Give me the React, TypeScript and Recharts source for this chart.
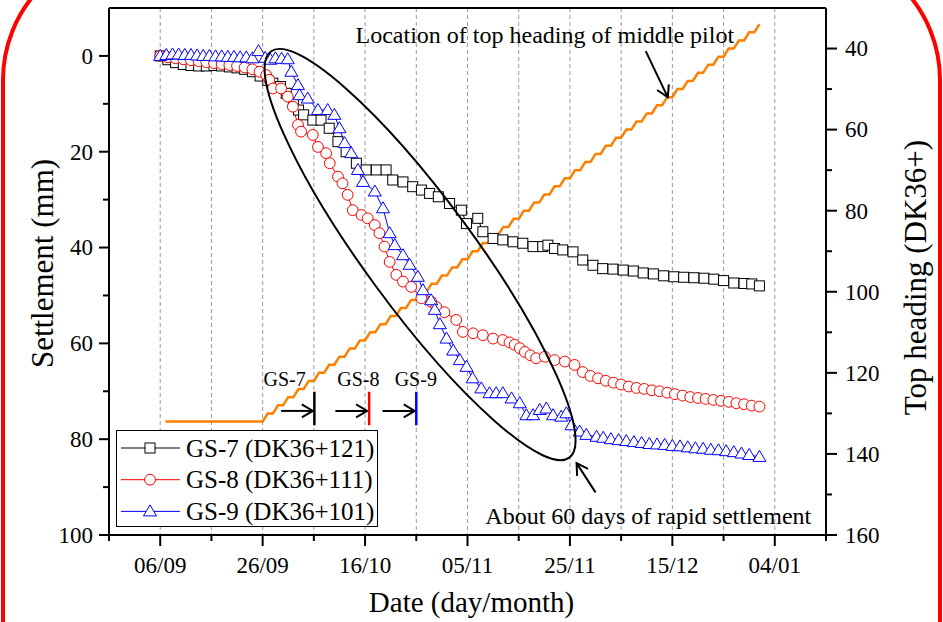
import React from 'react'
import { ComposedChart, Line, XAxis, YAxis, CartesianGrid, ReferenceLine, ReferenceDot } from 'recharts'

const SERIF = '"Liberation Serif", "Times New Roman", Times, serif'

// x is counted in days from 06/09
const xTicks = [-10, 0, 10, 20, 30, 40, 50, 60, 70, 80, 90, 100, 110, 120, 130]
const xLabelDays = [0, 20, 40, 60, 80, 100, 120]
const xLabels = ['06/09', '26/09', '16/10', '05/11', '25/11', '15/12', '04/01']
const settlementTicks = [0, 10, 20, 30, 40, 50, 60, 70, 80, 90, 100]
const headingTicks = [40, 50, 60, 70, 80, 90, 100, 110, 120, 130, 140, 150, 160]

const gs7Days = [0, 1.5, 3, 4.5, 6, 7.5, 9, 10.5, 12, 13.5, 15, 16.5, 18, 19.5, 21, 22, 23.5, 24.6, 26, 27,
  28, 29.8, 31.4, 33, 34.7, 36.3, 38.3, 40.2, 42.2, 44.1, 45.4, 47.4, 49.3, 51, 52.6, 54.3, 56.5, 58.8, 59.8, 62,
  63, 65, 66.9, 68.9, 70.8, 72.8, 74.7, 75.7, 77, 78.6, 80.6, 82.5, 84.5, 86.4, 88.4, 90.4, 92.4, 94.3, 96.3, 98.3,
  100.3, 102.2, 104.2, 106.2, 108.1, 110, 112, 114, 115.5, 117]
const gs7Mm = [0, 0.8, 1.4, 1.8, 2.0, 2.1, 2.1, 2.0, 2.1, 2.3, 2.5, 2.8, 3.3, 4.2, 5.1, 5.7, 6.4, 7.8, 9.8, 11.3,
  12.3, 13.4, 13.4, 15.1, 17.9, 20.0, 22.4, 23.8, 23.8, 23.8, 25.9, 26.3, 27.3, 28.0, 28.7, 29.4, 30.8, 32.2, 35.0, 33.9,
  36.7, 38.1, 38.4, 38.8, 39.1, 39.8, 39.8, 39.5, 40.2, 40.5, 40.9, 42.6, 43.7, 44.4, 44.5, 44.7, 44.9, 45.3, 45.5, 45.9,
  46.1, 46.2, 46.3, 46.4, 46.6, 46.9, 47.4, 47.5, 47.6, 48.0]

const gs8Days = [0, 1.5, 3, 4.5, 6, 7.5, 9, 10.5, 12, 13.5, 15, 16.5, 18,
  19.4, 20.7, 21.3, 22, 23.6, 24.9, 25.9, 26.9, 27.5, 29.8, 30.8, 32.4, 33.1, 34.7, 35.6, 36.6, 37.6, 39.3, 40.5, 41.9,
  42.8, 43.8, 44.8, 46.1, 47.4, 49, 51, 52.9, 53.9, 55.5, 57.8, 59.1, 61.1, 63, 65, 66.9, 68.2, 69.2, 70.2, 71.2,
  72.3, 73.4, 75.1, 77, 79, 80.9, 82.5, 84, 85.5, 87, 88.5, 90, 91.5, 93, 94.5, 96, 97.5, 99, 100.5, 102,
  103.5, 105, 106.5, 108, 109.5, 111, 112.5, 114, 115.5, 117]
const gs8Mm = [0, 0.3, 0.5, 0.7, 0.9, 1.1, 1.3, 1.5, 1.7, 1.9, 2.1, 2.4, 2.8,
  3.3, 4.0, 5.0, 6.8, 6.8, 8.5, 10.6, 14.4, 15.8, 16.5, 19.0, 20.3, 22.4, 25.2, 26.6, 29.0, 32.2, 33.2, 33.9, 35.3,
  37.0, 39.8, 43.0, 45.7, 47.1, 48.2, 50.6, 51.3, 52.4, 53.5, 55.1, 57.6, 57.9, 58.3, 59.0, 59.3, 59.8, 60.3, 61.0, 61.8,
  62.5, 63.1, 62.8, 63.5, 63.8, 64.5, 66.0, 66.8, 67.3, 67.8, 68.2, 68.6, 69.0, 69.3, 69.5, 69.8, 70.0, 70.3, 70.6, 70.9,
  71.2, 71.4, 71.6, 71.8, 72.0, 72.2, 72.5, 72.7, 73.0, 73.2]

const gs9Days = [0, 1.2, 2.4, 3.6, 4.8, 6, 7.2, 8.4, 9.6, 10.8, 12, 13.2, 14.4, 15.6, 16.8, 18, 19.2, 20.5, 21.5, 22.5,
  23.7, 24.9, 25.6, 26.9, 27.2, 28.8, 30.8, 32.7, 34, 35, 36, 37.3, 38.6, 39.6, 41.9, 43.5, 44.8, 45.8, 47.4, 48.7,
  50.3, 51.3, 52.9, 53.6, 54.6, 55.9, 57.2, 58.5, 59.8, 61, 62.7, 64.3, 65.6, 66.9, 68.6, 70.2, 71.5, 72.8, 74.1, 75.4,
  76.7, 78.3, 79.3, 80.3, 81.9, 83.2, 85.2, 86.5, 88, 89.5, 91, 92.5, 94, 95.5, 97, 98.5, 100, 101.5, 103, 104.5,
  106, 107.5, 109, 110.5, 112, 113.5, 115, 117]
const gs9Mm = [0, -0.2, -0.3, -0.3, -0.2, -0.2, -0.1, 0, 0, 0.1, 0.1, 0.2, 0.2, 0.3, 0.3, 0.5, -1.0, 0.4, 0.8, 0.5,
  0.6, 0.7, 3.3, 6.1, 8.2, 8.9, 11.3, 11.3, 12.3, 15.1, 18.2, 20.3, 23.8, 26.3, 28.3, 31.8, 37.0, 39.5, 41.6, 43.6,
  46.1, 48.9, 51.0, 53.0, 56.0, 59.0, 61.5, 63.5, 64.9, 67.3, 69.4, 70.4, 70.4, 70.4, 71.5, 72.5, 75.0, 75.0, 73.9, 73.6,
  75.0, 75.3, 74.6, 77.1, 78.4, 79.1, 79.5, 79.7, 80.0, 80.2, 80.4, 80.6, 80.8, 81.0, 81.1, 81.2, 81.4, 81.5, 81.7, 81.9,
  82.0, 82.2, 82.3, 82.5, 82.7, 83.0, 83.3, 83.7]

// top heading position of the middle pilot (DK36+), right axis
const headingDays = [1, 20, 21, 22, 23, 24, 25, 26, 27, 28, 29, 30, 31, 32, 33, 34, 35, 36, 37, 38, 39, 40,
  41, 42, 43, 44, 45, 46, 47, 48, 49, 50, 51, 52, 53, 54, 55, 56, 57, 58, 59, 60,
  61, 62, 63, 64, 65, 66, 67, 68, 69, 70, 71, 72, 73, 74, 75, 76, 77, 78, 79, 80,
  81, 82, 83, 84, 85, 86, 87, 88, 89, 90, 91, 92, 93, 94, 95, 96, 97, 98, 99, 100,
  101, 102, 103, 104, 105, 106, 107, 108, 109, 110, 111, 112, 113, 114, 115, 116, 117]
const headingPos = [132, 132, 130, 130, 128, 128, 126, 126, 124, 124, 122, 122, 120, 120, 118, 118, 116, 116, 114, 114, 112, 112,
  110, 110, 108, 108, 106, 106, 104, 104, 102, 102, 100, 100, 98, 98, 96, 96, 94, 94, 92, 92,
  90, 90, 88, 88, 86, 86, 84, 84, 82, 82, 80, 80, 78, 78, 76, 76, 74, 74, 72, 72,
  70, 70, 68, 68, 66, 66, 64, 64, 62, 62, 60, 60, 58, 58, 56, 56, 54, 54, 52, 52,
  50, 50, 48, 48, 46, 46, 44, 44, 42, 42, 40, 40, 38, 38, 36, 36, 34]

const rows = (days: number[], vals: number[]) => days.map((d, i) => ({ day: d, v: vals[i] }))
const gs7 = rows(gs7Days, gs7Mm)
const gs8 = rows(gs8Days, gs8Mm)
const gs9 = rows(gs9Days, gs9Mm)
const heading = rows(headingDays, headingPos)

const series = [
  { name: 'GS-7 (DK36+121)', color: '#000000', marker: 'square' },
  { name: 'GS-8 (DK36+111)', color: '#ff0000', marker: 'circle' },
  { name: 'GS-9 (DK36+101)', color: '#0000ff', marker: 'triangle' },
]

const Marker = ({ kind, cx, cy, color }: any) => {
  if (kind === 'square') return <rect x={cx - 5} y={cy - 5} width={10} height={10} fill="#fff" stroke={color} strokeWidth={1} />
  if (kind === 'circle') return <circle cx={cx} cy={cy} r={5.4} fill="#fff" stroke={color} strokeWidth={1} />
  return <polygon points={`${cx},${cy - 6.5} ${cx - 6.5},${cy + 4.5} ${cx + 6.5},${cy + 4.5}`} fill="#fff" stroke={color} strokeWidth={1} />
}

const dotFor = (kind: string, color: string) => (p: any) =>
  <Marker key={`${kind}-${p.index}`} kind={kind} cx={p.cx} cy={p.cy} color={color} />

const XTick = ({ x, y, payload }: any) => {
  const i = xLabelDays.indexOf(payload.value)
  return (
    <g>
      <line x1={x} x2={x} y1={y} y2={y + (i >= 0 ? 11 : 6)} stroke="#000" strokeWidth={2} />
      {i >= 0 && (
        <text x={x} y={y + 38} textAnchor="middle" fontSize={23} fontFamily={SERIF} fill="#000">{xLabels[i]}</text>
      )}
    </g>
  )
}

const LeftTick = ({ x, y, payload }: any) => {
  const major = payload.value % 20 === 0
  return (
    <g>
      <line x1={x} x2={x - (major ? 10 : 6)} y1={y} y2={y} stroke="#000" strokeWidth={2} />
      {major && (
        <text x={x - 16} y={y} dy="0.34em" textAnchor="end" fontSize={23} fontFamily={SERIF} fill="#000">{payload.value}</text>
      )}
    </g>
  )
}

const RightTick = ({ x, y, payload }: any) => {
  const major = payload.value % 20 === 0
  return (
    <g>
      <line x1={x} x2={x + (major ? 11 : 6)} y1={y} y2={y} stroke="#000" strokeWidth={2} />
      {major && (
        <text x={x + 19} y={y} dy="0.34em" textAnchor="start" fontSize={23} fontFamily={SERIF} fill="#000">{payload.value}</text>
      )}
    </g>
  )
}

const VTitle = ({ viewBox, value, dx, dy = 0, size = 31 }: any) => {
  const cx = viewBox.x + dx
  const cy = viewBox.y + viewBox.height / 2 + dy
  return (
    <text x={cx} y={cy} transform={`rotate(-90 ${cx} ${cy})`} textAnchor="middle" dominantBaseline="central"
      fontSize={size} fontFamily={SERIF} fill="#000">{value}</text>
  )
}

const XTitle = ({ viewBox }: any) => (
  <text x={viewBox.x + viewBox.width / 2 + 4} y={viewBox.y + 77} textAnchor="middle" fontSize={29} fontFamily={SERIF} fill="#000">
    Date (day/month)
  </text>
)

const note = (text: string, size: number, anchor = 'middle') => (p: any) => (
  <text x={p.cx} y={p.cy} textAnchor={anchor} fontSize={size} fontFamily={SERIF} fill="#000">{text}</text>
)

const arrow = (p: any) => (
  <line x1={p.x1} y1={p.y1} x2={p.x2} y2={p.y2} stroke="#000" strokeWidth={2} markerEnd="url(#arrowHead)" />
)

const LegendBox = () => (
  <div style={{ position: 'absolute', left: 116, top: 430, width: 262, height: 97, border: '1px solid #000', background: '#fff', boxSizing: 'border-box' }}>
    <svg width={260} height={95}>
      {series.map((s, i) => {
        const y = 17 + i * 31.7
        return (
          <g key={s.name}>
            <line x1={4} x2={63} y1={y} y2={y} stroke={s.color} strokeWidth={1} />
            <Marker kind={s.marker} cx={33} cy={y} color={s.color} />
            <text x={69} y={y} dy="0.34em" fontSize={25} fontFamily={SERIF} fill="#000">{s.name}</text>
          </g>
        )
      })}
    </svg>
  </div>
)

export default function App() {
  return (
    <div style={{ position: 'fixed', left: 0, top: 0, width: 943, height: 622, background: '#fff', overflow: 'hidden' }}>
      <svg width={0} height={0} style={{ position: 'absolute' }}>
        <defs>
          <marker id="arrowHead" markerUnits="userSpaceOnUse" markerWidth={16} markerHeight={16} refX={12} refY={8} orient="auto">
            <path d="M1,1.5 L12,8 L1,14.5" fill="none" stroke="#000" strokeWidth={2} />
          </marker>
        </defs>
      </svg>
      <div style={{ position: 'absolute', left: 1, top: -54, width: 941, height: 1200, border: '4px solid #ff0000', borderRadius: 134, boxSizing: 'border-box' }} />
      <ComposedChart width={943} height={622} margin={{ top: 8, right: 0, bottom: 0, left: 0 }}>
        <CartesianGrid yAxisId="left" horizontal={false} stroke="#9a9a9a" strokeDasharray="4 3" />
        <XAxis
          type="number"
          dataKey="day"
          domain={[-10, 130]}
          ticks={xTicks}
          interval={0}
          height={87}
          tickSize={0}
          tickMargin={0}
          tick={<XTick />}
          axisLine={{ stroke: '#000', strokeWidth: 2 }}
          label={<XTitle />}
          allowDataOverflow
        />
        <YAxis
          yAxisId="left"
          type="number"
          domain={[-10, 100]}
          reversed
          ticks={settlementTicks}
          interval={0}
          width={109}
          tickSize={0}
          tickMargin={0}
          tick={<LeftTick />}
          axisLine={{ stroke: '#000', strokeWidth: 2 }}
          label={<VTitle value="Settlement (mm)" dx={42} dy={-8} />}
          allowDataOverflow
        />
        <YAxis
          yAxisId="right"
          orientation="right"
          type="number"
          domain={[30, 160]}
          reversed
          ticks={headingTicks}
          interval={0}
          width={117}
          tickSize={0}
          tickMargin={0}
          tick={<RightTick />}
          axisLine={{ stroke: '#000', strokeWidth: 2 }}
          label={<VTitle value="Top heading (DK36+)" dx={89} dy={6} />}
          allowDataOverflow
        />
        <ReferenceLine yAxisId="left" y={-10} stroke="#000" strokeWidth={2} />

        <Line data={gs7} dataKey="v" yAxisId="left" stroke="#000" strokeWidth={1} dot={dotFor('square', '#000')} activeDot={false} isAnimationActive={false} />
        <Line data={gs8} dataKey="v" yAxisId="left" stroke="#ff0000" strokeWidth={1} dot={dotFor('circle', '#ff0000')} activeDot={false} isAnimationActive={false} />
        <Line data={gs9} dataKey="v" yAxisId="left" stroke="#0000ff" strokeWidth={1} dot={dotFor('triangle', '#0000ff')} activeDot={false} isAnimationActive={false} />
        <Line data={heading} dataKey="v" yAxisId="right" stroke="#ff8000" strokeWidth={2.5} dot={false} activeDot={false} isAnimationActive={false} />

        {/* rapid settlement ellipse */}
        <ReferenceDot yAxisId="left" x={50.74} y={41.46} shape={(p: any) => (
          <ellipse cx={p.cx} cy={p.cy} rx={252} ry={54.4} transform={`rotate(53.7 ${p.cx} ${p.cy})`} fill="none" stroke="#000" strokeWidth={2} />
        )} />

        {/* face positions passing each monitoring point */}
        <ReferenceLine yAxisId="left" segment={[{ x: 23.6, y: 74.1 }, { x: 29.8, y: 74.1 }]} shape={arrow} />
        <ReferenceLine yAxisId="left" segment={[{ x: 34.2, y: 74.1 }, { x: 40.4, y: 74.1 }]} shape={arrow} />
        <ReferenceLine yAxisId="left" segment={[{ x: 43.4, y: 74.1 }, { x: 49.7, y: 74.1 }]} shape={arrow} />
        <ReferenceLine yAxisId="left" segment={[{ x: 30.1, y: 70.1 }, { x: 30.1, y: 77.1 }]} stroke="#000" strokeWidth={2.5} />
        <ReferenceLine yAxisId="left" segment={[{ x: 40.8, y: 70.1 }, { x: 40.8, y: 77.1 }]} stroke="#ff0000" strokeWidth={2.5} />
        <ReferenceLine yAxisId="left" segment={[{ x: 50.0, y: 70.1 }, { x: 50.0, y: 77.1 }]} stroke="#0000ff" strokeWidth={2.5} />
        <ReferenceDot yAxisId="left" x={24.3} y={68.9} shape={note('GS-7', 20)} />
        <ReferenceDot yAxisId="left" x={38.7} y={68.9} shape={note('GS-8', 20)} />
        <ReferenceDot yAxisId="left" x={49.9} y={68.9} shape={note('GS-9', 20)} />

        <ReferenceDot yAxisId="left" x={75.1} y={-2.7} shape={note('Location of top heading of middle pilot', 24)} />
        <ReferenceLine yAxisId="left" segment={[{ x: 94.8, y: -1.0 }, { x: 99.1, y: 8.6 }]} shape={arrow} />
        <ReferenceDot yAxisId="left" x={95.3} y={97.6} shape={note('About 60 days of rapid settlement', 24)} />
        <ReferenceLine yAxisId="left" segment={[{ x: 85.0, y: 91.1 }, { x: 81.3, y: 85.0 }]} shape={arrow} />
      </ComposedChart>
      <LegendBox />
    </div>
  )
}
